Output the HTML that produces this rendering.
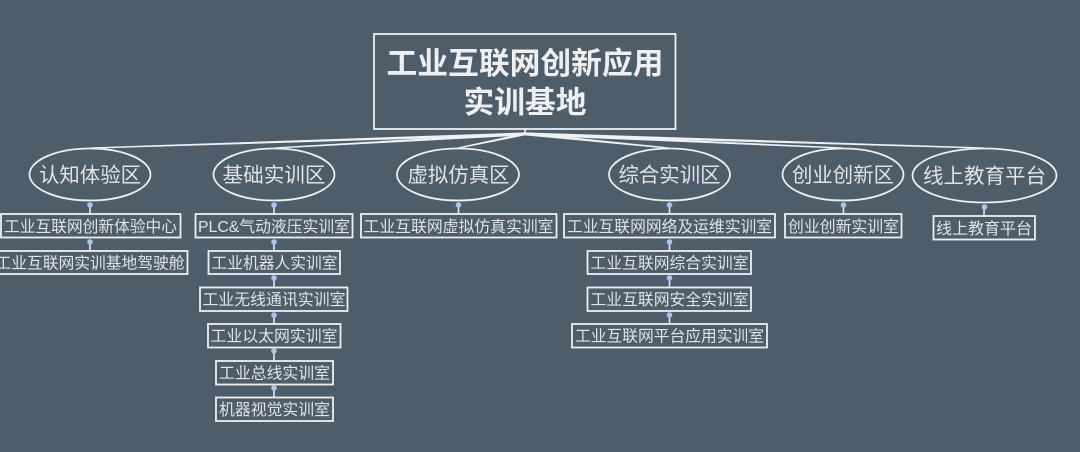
<!DOCTYPE html>
<html>
<head>
<meta charset="utf-8">
<style>
html,body{margin:0;padding:0;background:#4e5d6a;}
svg{display:block;}
text{font-family:"Liberation Sans","Noto Sans CJK SC",sans-serif;text-anchor:middle;fill:#e2e3e4;}
.b{fill:none;stroke:#eeeeee;stroke-width:1.8;}
.e{fill:#4e5d6a;stroke:#eeeeee;stroke-width:1.8;}
.l{fill:#f0f0f0;}
.c{stroke:#e6e8ea;stroke-width:1.6;}
.d{fill:#a9c4ee;}
.t{font-size:15.7px;}
.m{font-size:20.5px;}
.h{font-size:30.5px;font-weight:bold;fill:#efefef;}
</style>
</head>
<body>
<svg width="1080" height="452" viewBox="0 0 1080 452" xmlns="http://www.w3.org/2000/svg">
<rect width="1080" height="452" fill="#4e5d6a"/>

<!-- root connectors -->
<rect x="524.2" y="129" width="1.6" height="5" fill="#f0f0f0"/>
<polygon class="l" points="525,132.4 525,135.4 90,148.8 90,147.4"/>
<polygon class="l" points="525,132.4 525,135.4 274,148.8 274,147.4"/>
<polygon class="l" points="525,132.8 525,135.4 458,148.8 458,147.4"/>
<polygon class="l" points="525,132.4 525,135.4 669,148.8 669,147.4"/>
<polygon class="l" points="525,132.4 525,135.4 843,148.8 843,147.4"/>
<polygon class="l" points="525,132.4 525,135.4 984,148.8 984,147.4"/>

<!-- root -->
<rect class="b" x="374" y="34" width="301.5" height="95"/>
<text class="h" x="525" y="74" textLength="277" lengthAdjust="spacingAndGlyphs">工业互联网创新应用</text>
<text class="h" x="525" y="113" textLength="123" lengthAdjust="spacingAndGlyphs">实训基地</text>

<!-- vertical connectors -->
<g class="c">
<line x1="90" y1="205" x2="90" y2="214"/>
<line x1="90" y1="242" x2="90" y2="251"/>
<line x1="274" y1="205" x2="274" y2="214"/>
<line x1="274" y1="242" x2="274" y2="251"/>
<line x1="274" y1="278" x2="274" y2="287"/>
<line x1="274" y1="315" x2="274" y2="324"/>
<line x1="274" y1="351" x2="274" y2="361"/>
<line x1="274" y1="388" x2="274" y2="397"/>
<line x1="458.500" y1="205" x2="458.500" y2="214"/>
<line x1="669.500" y1="205" x2="669.500" y2="214"/>
<line x1="669.500" y1="242" x2="669.500" y2="251"/>
<line x1="669.500" y1="278" x2="669.500" y2="287"/>
<line x1="669.500" y1="315" x2="669.500" y2="324"/>
<line x1="843.500" y1="205" x2="843.500" y2="214"/>
<line x1="984" y1="207" x2="984" y2="216"/>
</g>
<g class="d">
<circle cx="90" cy="205" r="2.800"/>
<circle cx="90" cy="242" r="2.800"/>
<circle cx="274" cy="205" r="2.800"/>
<circle cx="274" cy="242" r="2.800"/>
<circle cx="274" cy="278" r="2.800"/>
<circle cx="274" cy="315" r="2.800"/>
<circle cx="274" cy="351" r="2.800"/>
<circle cx="274" cy="388" r="2.800"/>
<circle cx="458.500" cy="205" r="2.800"/>
<circle cx="669.500" cy="205" r="2.800"/>
<circle cx="669.500" cy="242" r="2.800"/>
<circle cx="669.500" cy="278" r="2.800"/>
<circle cx="669.500" cy="315" r="2.800"/>
<circle cx="843.500" cy="205" r="2.800"/>
<circle cx="984.500" cy="207" r="2.800"/>
</g>

<!-- ellipses -->
<ellipse class="e" cx="90" cy="174.500" rx="60.500" ry="26"/>
<text class="m" x="90" y="182" textLength="102" lengthAdjust="spacingAndGlyphs">认知体验区</text>
<ellipse class="e" cx="274" cy="174.500" rx="60.500" ry="26"/>
<text class="m" x="274" y="182" textLength="103" lengthAdjust="spacingAndGlyphs">基础实训区</text>
<ellipse class="e" cx="458" cy="174.500" rx="61" ry="26"/>
<text class="m" x="458.500" y="182" textLength="102" lengthAdjust="spacingAndGlyphs">虚拟仿真区</text>
<ellipse class="e" cx="669.500" cy="174.500" rx="60.500" ry="26"/>
<text class="m" x="669.500" y="182" textLength="102" lengthAdjust="spacingAndGlyphs">综合实训区</text>
<ellipse class="e" cx="843" cy="174.500" rx="60.500" ry="26"/>
<text class="m" x="843" y="182" textLength="102" lengthAdjust="spacingAndGlyphs">创业创新区</text>
<ellipse class="e" cx="984.500" cy="175.500" rx="72" ry="27"/>
<text class="m" x="984.500" y="183" textLength="123" lengthAdjust="spacingAndGlyphs">线上教育平台</text>

<!-- boxes -->
<rect class="b" x="1" y="214" width="179.500" height="23.500"/>
<text class="t" x="90.500" y="232" textLength="173" lengthAdjust="spacingAndGlyphs">工业互联网创新体验中心</text>
<rect class="b" x="-9" y="251" width="196.500" height="23"/>
<text class="t" x="90" y="268.500" textLength="189" lengthAdjust="spacingAndGlyphs">工业互联网实训基地驾驶舱</text>

<rect class="b" x="195.500" y="214" width="157" height="23.500"/>
<text class="t" x="274" y="232" textLength="152" lengthAdjust="spacingAndGlyphs">PLC&amp;气动液压实训室</text>
<rect class="b" x="208.500" y="251" width="131.500" height="23"/>
<text class="t" x="274.500" y="268.500" textLength="126" lengthAdjust="spacingAndGlyphs">工业机器人实训室</text>
<rect class="b" x="200" y="287.500" width="147.500" height="23.500"/>
<text class="t" x="274" y="305" textLength="143" lengthAdjust="spacingAndGlyphs">工业无线通讯实训室</text>
<rect class="b" x="208" y="324" width="132.500" height="23.500"/>
<text class="t" x="274" y="341.500" textLength="127" lengthAdjust="spacingAndGlyphs">工业以太网实训室</text>
<rect class="b" x="216" y="361" width="117" height="23.500"/>
<text class="t" x="274.500" y="378.500" textLength="111" lengthAdjust="spacingAndGlyphs">工业总线实训室</text>
<rect class="b" x="216" y="397.500" width="117" height="23.500"/>
<text class="t" x="274.500" y="415" textLength="111" lengthAdjust="spacingAndGlyphs">机器视觉实训室</text>

<rect class="b" x="361" y="214" width="195.500" height="23.500"/>
<text class="t" x="458.500" y="232" textLength="190" lengthAdjust="spacingAndGlyphs">工业互联网虚拟仿真实训室</text>

<rect class="b" x="564" y="214" width="211" height="23.500"/>
<text class="t" x="669.500" y="232" textLength="205" lengthAdjust="spacingAndGlyphs">工业互联网网络及运维实训室</text>
<rect class="b" x="587.500" y="251" width="163.500" height="23"/>
<text class="t" x="669.500" y="268.500" textLength="158" lengthAdjust="spacingAndGlyphs">工业互联网综合实训室</text>
<rect class="b" x="587.500" y="287.500" width="163.500" height="23.500"/>
<text class="t" x="669.500" y="305" textLength="158" lengthAdjust="spacingAndGlyphs">工业互联网安全实训室</text>
<rect class="b" x="572" y="324" width="195" height="23.500"/>
<text class="t" x="669.500" y="341.500" textLength="189" lengthAdjust="spacingAndGlyphs">工业互联网平台应用实训室</text>

<rect class="b" x="785" y="214" width="116.500" height="23.500"/>
<text class="t" x="843.500" y="232" textLength="111" lengthAdjust="spacingAndGlyphs">创业创新实训室</text>
<rect class="b" x="933.500" y="216" width="101.500" height="23.500"/>
<text class="t" x="984" y="234" textLength="96" lengthAdjust="spacingAndGlyphs">线上教育平台</text>
</svg>
</body>
</html>
